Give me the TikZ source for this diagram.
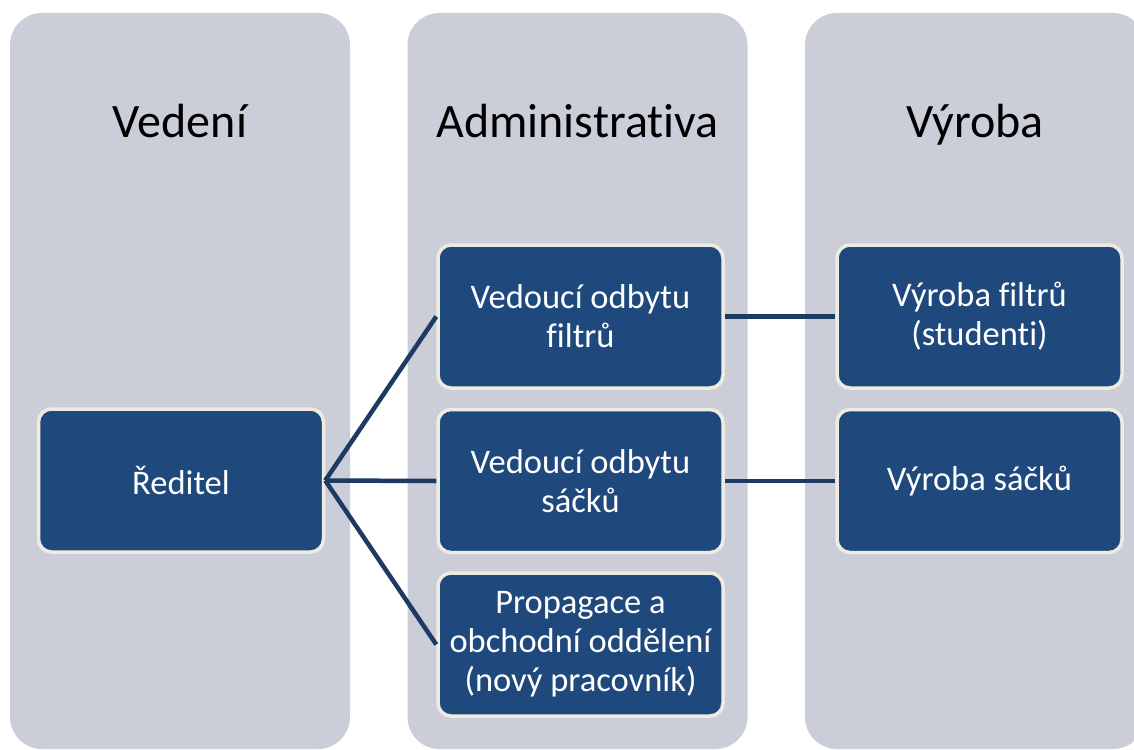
\documentclass[tikz,border=0pt]{standalone}
\usepackage{fontspec}
\setmainfont{Carlito}[Ligatures={NoCommon}]
\definecolor{colgray}{HTML}{CBCED8}
\definecolor{boxblue}{HTML}{1F497D}
\definecolor{boxrim}{HTML}{EEECE1}
\definecolor{linkblue}{HTML}{1D3A63}
\begin{document}
\begin{tikzpicture}[x=1pt,y=-1pt,
  column/.style={fill=colgray, draw=none, rounded corners=32pt, minimum width=340pt, minimum height=736pt, inner sep=0pt},
  header/.style={font=\fontsize{48}{58}\selectfont, text=black, anchor=base},
  unit/.style={fill=boxblue, draw=boxrim, line width=3.5pt, rounded corners=13pt,
    minimum width=285pt, minimum height=143pt, text=white, align=center,
    font=\fontsize{34.5}{39}\selectfont, inner sep=2pt},
  link/.style={draw=linkblue, line width=4.5pt}]
\useasboundingbox (0,0) rectangle (1134,749);
\clip (0,0) rectangle (1134,749);
\node[column] (c1) at (180,381) {};
\node[column] (c2) at (577.5,381) {};
\node[column] (c3) at (975,381) {};
\node[header] (h1) at (180,138) {Vedení};
\node[header] (h2) at (577.5,138) {Administrativa};
\node[header] (h3) at (975,138) {Výroba};
\node[unit] (r) at (181,480.5) {Ředitel};
\node[unit] (a1) at (580.5,316.5) {Vedoucí odbytu\\filtrů};
\node[unit] (a2) at (580.5,481) {Vedoucí odbytu\\sáčků};
\node[unit] (a3) at (580.5,644.5) {Propagace a\\obchodní oddělení\\(nový pracovník)};
\node[unit] (v1) at (979.5,316.5) {Výroba filtrů\\(studenti)};
\node[unit] (v2) at (979.5,481) {Výroba sáčků};
\draw[link] (r.east) -- (a1.west);
\draw[link] (r.east) -- (a2.west);
\draw[link] (r.east) -- (a3.west);
\draw[link] (a1.east) -- (v1.west);
\draw[link] (a2.east) -- (v2.west);
\end{tikzpicture}
\end{document}
